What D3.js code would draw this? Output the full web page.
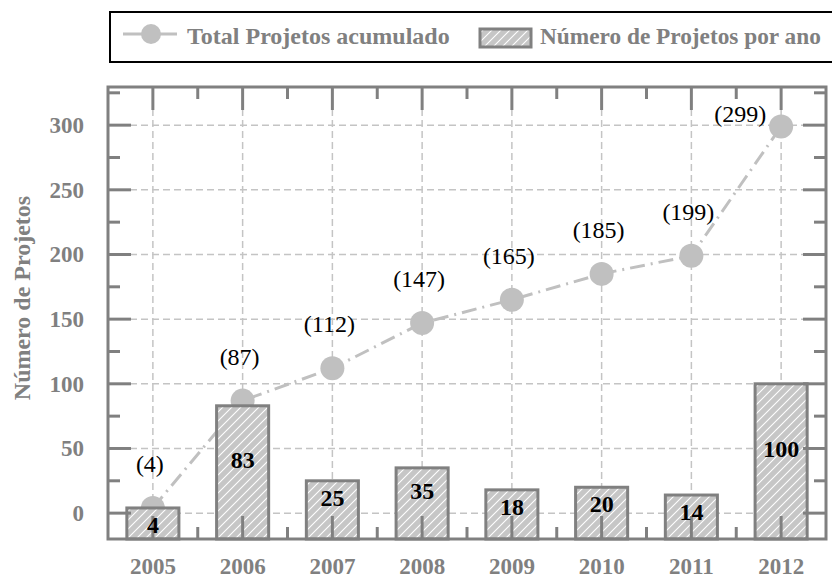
<!DOCTYPE html>
<html>
<head>
<meta charset="utf-8">
<script src="https://cdn.jsdelivr.net/npm/d3@7/dist/d3.min.js"></script>
<style>
  html, body { margin: 0; padding: 0; background: #fff; }
  svg { display: block; overflow: hidden; }
</style>
</head>
<body>
<svg id="chart" width="832" height="579"></svg>
<script>
// ---- data ----
const years = ["2005", "2006", "2007", "2008", "2009", "2010", "2011", "2012"];
const projectsPerYear = [4, 83, 25, 35, 18, 20, 14, 100];
const projectsCumulative = [4, 87, 112, 147, 165, 185, 199, 299];
const yTickValues = [0, 50, 100, 150, 200, 250, 300];
const yMinorTickValues = [25, 75, 125, 175, 225, 275, 325];
const legendLabels = ["Total Projetos acumulado", "Número de Projetos por ano"];
const yAxisTitle = "Número de Projetos";

// ---- setup ----
const svg = d3.select("#chart");
const FONT = "'Liberation Serif', 'Times New Roman', serif";
const GRAY = "#808080";
const LIGHT = "#c0c0c0";
const GRID = "#c4c4c4";

const plot = { left: 108, right: 826, top: 87, bottom: 539 };

const x = d3.scaleBand().domain(years).range([plot.left, plot.right])
  .paddingInner(0.42).paddingOuter(0.21);
const y = d3.scaleLinear().domain([-20, 329.5]).range([plot.bottom, plot.top]);

// hatch pattern
const defs = svg.append("defs");
const pat = defs.append("pattern").attr("id", "hatch")
  .attr("patternUnits", "userSpaceOnUse").attr("width", 9).attr("height", 9);
pat.append("rect").attr("width", 9).attr("height", 9).attr("fill", "#c6c6c6");
pat.append("path").attr("d", "M-2,2 L2,-2 M0,9 L9,0 M7,11 L11,7")
  .attr("stroke", "#fff").attr("stroke-width", 1.1);

// ---- grid ----
const grid = svg.append("g");
grid.selectAll("line.h").data(yTickValues).join("line")
  .attr("x1", plot.left).attr("x2", plot.right)
  .attr("y1", d => y(d)).attr("y2", d => y(d))
  .attr("stroke", GRID).attr("stroke-width", 1.5).attr("stroke-dasharray", "7,4");
grid.selectAll("line.v").data(years).join("line")
  .attr("x1", d => x(d) + x.bandwidth() / 2).attr("x2", d => x(d) + x.bandwidth() / 2)
  .attr("y1", plot.top).attr("y2", plot.bottom)
  .attr("stroke", GRID).attr("stroke-width", 1.5).attr("stroke-dasharray", "7,4");

// ---- cumulative line ----
const pts = years.map((yr, i) => ({ yr, v: projectsCumulative[i] }));
const line = d3.line().x(d => x(d.yr) + x.bandwidth() / 2).y(d => y(d.v));
svg.append("path").datum(pts).attr("d", line)
  .attr("fill", "none").attr("stroke", LIGHT).attr("stroke-width", 3)
  .attr("stroke-dasharray", "15,6,2,6");
svg.append("g").selectAll("circle").data(pts).join("circle")
  .attr("cx", d => x(d.yr) + x.bandwidth() / 2).attr("cy", d => y(d.v))
  .attr("r", 12).attr("fill", LIGHT);

// ---- bars ----
const bars = years.map((yr, i) => ({ yr, v: projectsPerYear[i] }));
svg.append("g").selectAll("rect").data(bars).join("rect")
  .attr("x", d => x(d.yr)).attr("width", x.bandwidth())
  .attr("y", d => y(d.v)).attr("height", d => y(-20) - y(d.v))
  .attr("fill", "url(#hatch)").attr("stroke", GRAY).attr("stroke-width", 3);

// ---- frame and ticks ----
const frame = svg.append("g").attr("stroke", GRAY).attr("stroke-width", 3).attr("fill", "none");
frame.append("rect").attr("x", plot.left).attr("y", plot.top)
  .attr("width", plot.right - plot.left).attr("height", plot.bottom - plot.top);

const majorLen = 23, minorLen = 12;
yTickValues.forEach(v => {
  frame.append("line").attr("x1", plot.left).attr("x2", plot.left + majorLen).attr("y1", y(v)).attr("y2", y(v));
  frame.append("line").attr("x1", plot.right).attr("x2", plot.right - majorLen).attr("y1", y(v)).attr("y2", y(v));
});
yMinorTickValues.forEach(v => {
  frame.append("line").attr("x1", plot.left).attr("x2", plot.left + minorLen).attr("y1", y(v)).attr("y2", y(v));
  frame.append("line").attr("x1", plot.right).attr("x2", plot.right - minorLen).attr("y1", y(v)).attr("y2", y(v));
});
years.forEach((yr, i) => {
  const cx = x(yr) + x.bandwidth() / 2;
  frame.append("line").attr("x1", cx).attr("x2", cx).attr("y1", plot.top).attr("y2", plot.top + majorLen);
  frame.append("line").attr("x1", cx).attr("x2", cx).attr("y1", plot.bottom).attr("y2", plot.bottom - majorLen);
  if (i < years.length - 1) {
    const bx = cx + x.step() / 2;
    frame.append("line").attr("x1", bx).attr("x2", bx).attr("y1", plot.top).attr("y2", plot.top + minorLen);
    frame.append("line").attr("x1", bx).attr("x2", bx).attr("y1", plot.bottom).attr("y2", plot.bottom - minorLen);
  }
});

// ---- tick labels ----
svg.append("g").selectAll("text").data(yTickValues).join("text")
  .attr("x", 84).attr("y", d => y(d)).attr("dy", "0.34em")
  .attr("text-anchor", "end").attr("font-family", FONT).attr("font-weight", "bold")
  .attr("font-size", 23).attr("fill", GRAY).text(d => d);
svg.append("g").selectAll("text").data(years).join("text")
  .attr("x", d => x(d) + x.bandwidth() / 2).attr("y", 574)
  .attr("text-anchor", "middle").attr("font-family", FONT).attr("font-weight", "bold")
  .attr("font-size", 23).attr("fill", GRAY).text(d => d);

// y axis title
svg.append("text").attr("transform", "translate(29.5,298) rotate(-90)")
  .attr("text-anchor", "middle").attr("font-family", FONT).attr("font-weight", "bold")
  .attr("font-size", 24).attr("fill", GRAY).text(yAxisTitle);

// ---- bar value labels ----
svg.append("g").selectAll("text").data(bars).join("text")
  .attr("x", d => x(d.yr) + x.bandwidth() / 2)
  .attr("y", d => Math.max(y(d.v) + 17, (y(0) + y(d.v)) / 2))
  .attr("dy", "0.34em").attr("text-anchor", "middle")
  .attr("font-family", FONT).attr("font-weight", "bold").attr("font-size", 24)
  .attr("fill", "#000").text(d => d.v);

// ---- cumulative labels ----
svg.append("g").selectAll("text").data(pts).join("text")
  .attr("x", (d, i) => x(d.yr) + x.bandwidth() / 2 + (i === pts.length - 1 ? -15 : -3))
  .attr("y", (d, i) => y(d.v) + (i === pts.length - 1 ? -4 : -36))
  .attr("text-anchor", (d, i) => i === pts.length - 1 ? "end" : "middle")
  .attr("font-family", FONT).attr("font-size", 24).attr("fill", "#000")
  .text(d => "(" + d.v + ")");

// ---- legend ----
const lg = svg.append("g");
lg.append("rect").attr("x", 110).attr("y", 12).attr("width", 760).attr("height", 50)
  .attr("fill", "#fff").attr("stroke", "#000").attr("stroke-width", 2);
lg.append("line").attr("x1", 123).attr("x2", 177).attr("y1", 34).attr("y2", 34)
  .attr("stroke", LIGHT).attr("stroke-width", 3);
lg.append("circle").attr("cx", 151).attr("cy", 34).attr("r", 10).attr("fill", LIGHT);
lg.append("text").attr("x", 187).attr("y", 44).attr("font-family", FONT)
  .attr("font-weight", "bold").attr("font-size", 24).attr("fill", GRAY).text(legendLabels[0]);
lg.append("rect").attr("x", 480).attr("y", 29).attr("width", 51).attr("height", 18)
  .attr("fill", "url(#hatch)").attr("stroke", GRAY).attr("stroke-width", 3);
lg.append("text").attr("x", 540).attr("y", 44).attr("font-family", FONT)
  .attr("font-weight", "bold").attr("font-size", 23.3).attr("fill", GRAY).text(legendLabels[1]);
</script>
</body>
</html>
